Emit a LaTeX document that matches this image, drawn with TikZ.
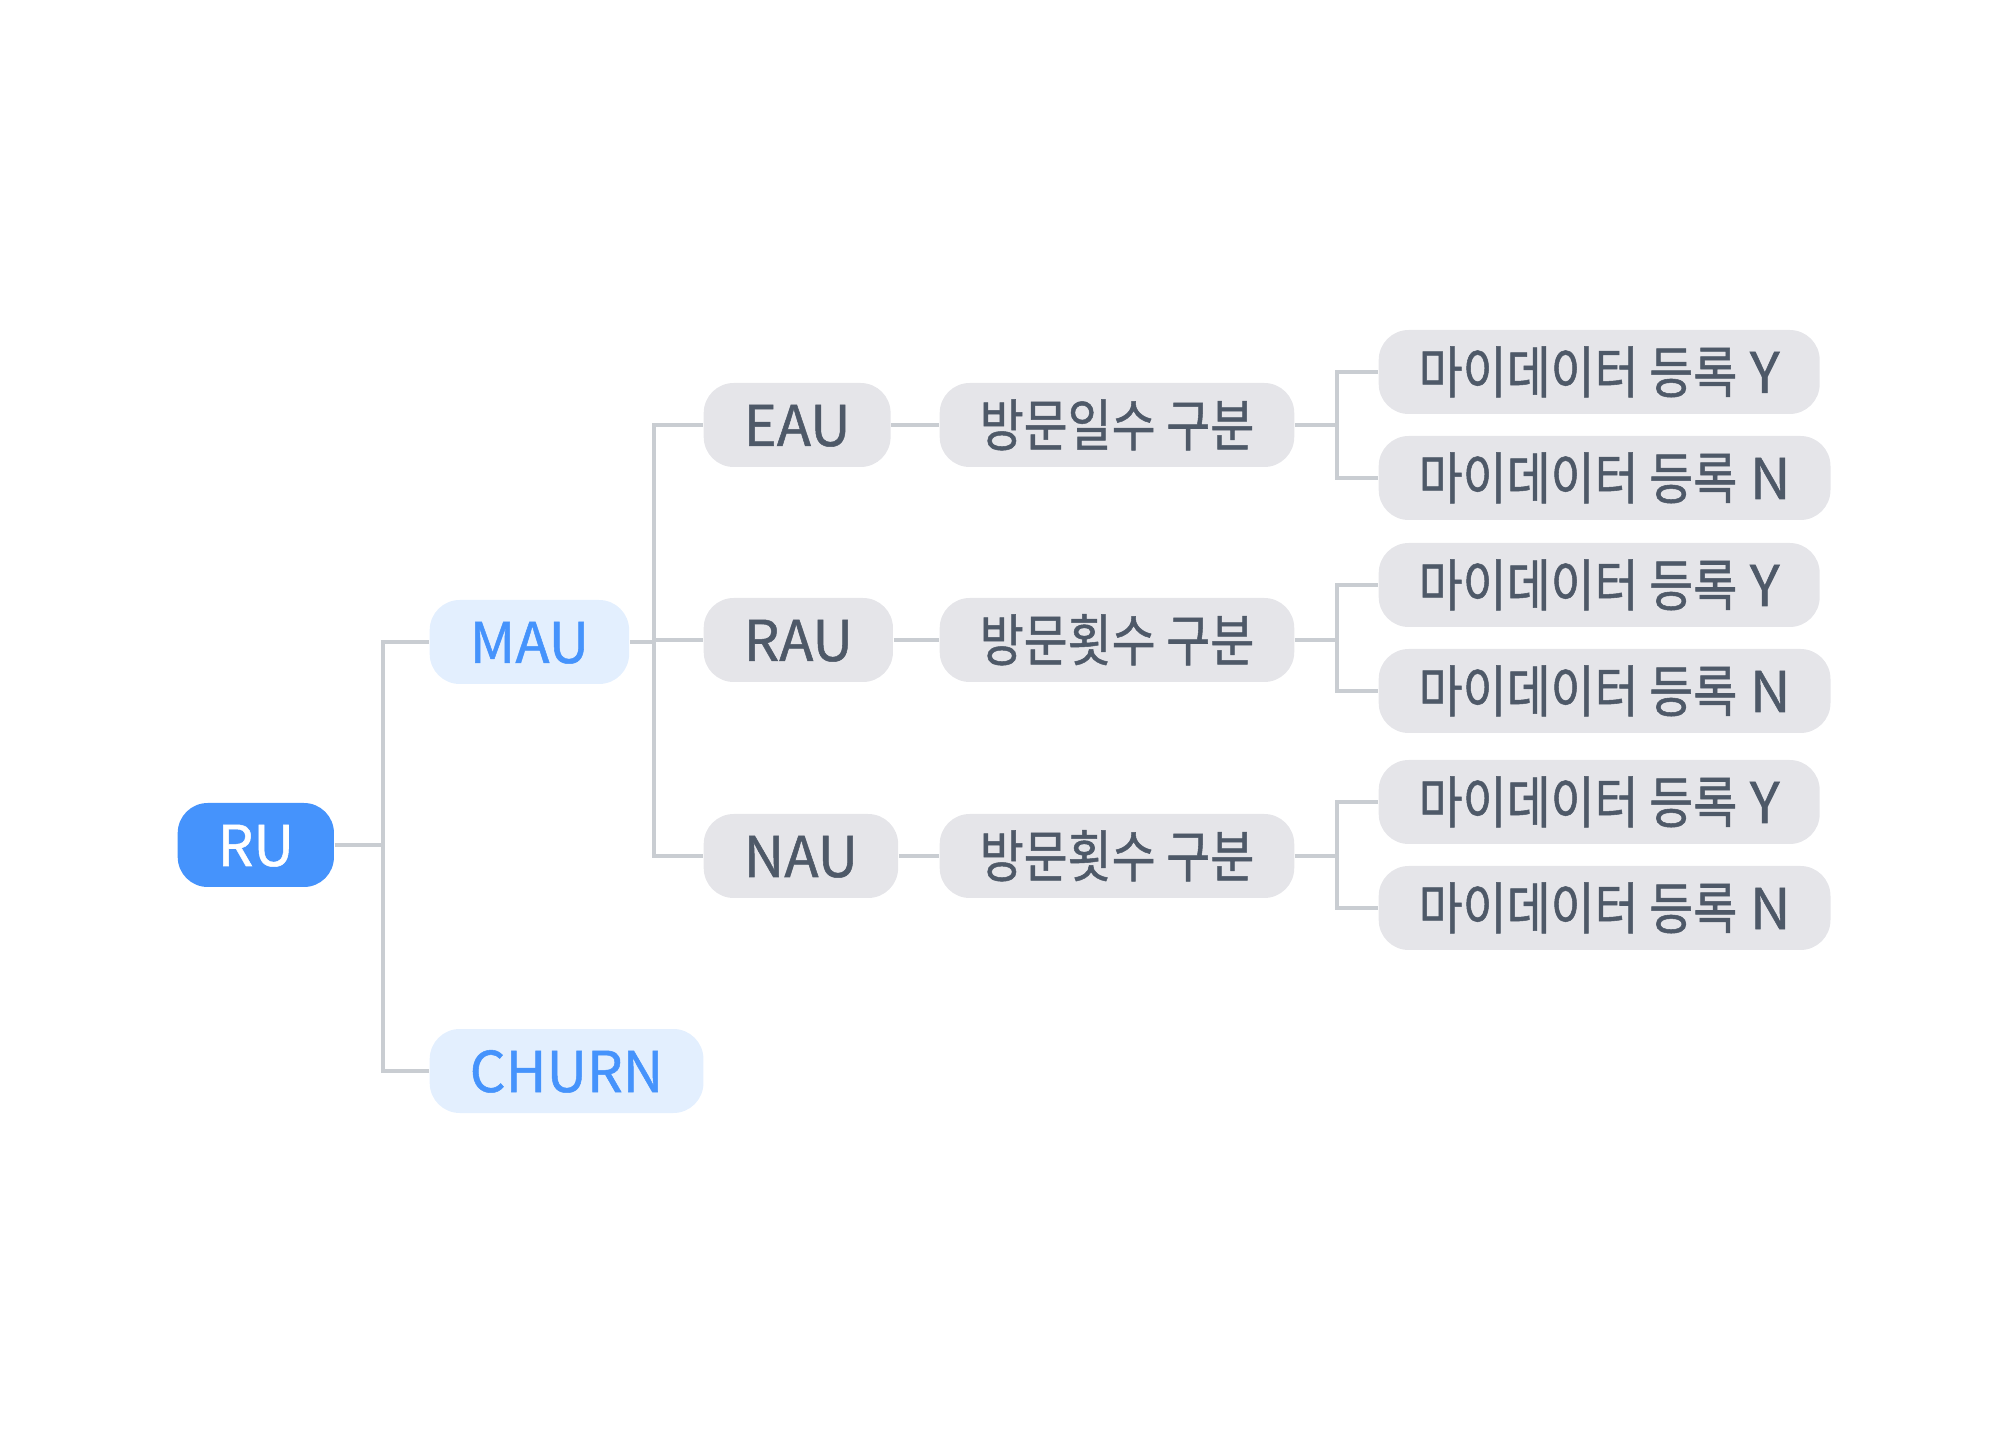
\documentclass[tikz,border=0pt]{standalone}
\usepackage{fontspec}
\setmainfont{Noto Sans CJK KR}[FakeBold=0.9]
\newfontfamily\krfont{Noto Sans CJK KR}[FakeStretch=0.85, FakeBold=0.9]
\usetikzlibrary{positioning, calc}
\definecolor{tsblue}{HTML}{4593FC}
\definecolor{tslightblue}{HTML}{E3EFFE}
\definecolor{tsgray}{HTML}{E5E5E9}
\definecolor{tstext}{HTML}{4E5968}
\definecolor{tsline}{HTML}{C9CDD2}

\begin{document}
\begin{tikzpicture}[font=\fontsize{16}{19}\selectfont,
    box/.style={rounded corners=0.3cm, minimum height=0.84cm, inner xsep=0.40cm,
                inner ysep=0pt, text height=0.5cm, text depth=0.08cm, anchor=west},
    rootbox/.style={box, fill=tsblue, text=white},
    segbox/.style={box, fill=tslightblue, text=tsblue},
    graybox/.style={box, fill=tsgray, text=tstext},
    link/.style={draw=tsline, line width=0.035cm}]
  \useasboundingbox (0,0) rectangle (20,-14.44);

  % branch columns
  \coordinate (b1) at (3.83,0);
  \coordinate (b2) at (6.54,0);
  \coordinate (b3) at (13.37,0);

  \node[rootbox] (ru) at (1.77,-8.45) {RU};
  \node[segbox] (mau) at (4.29,-6.42) {MAU};
  \node[segbox] (churn) at (4.29,-10.71) {CHURN};

  \node[graybox] (eau) at (7.03,-4.25) {EAU};
  \node[graybox] (rau) at (7.03,-6.40) {RAU};
  \node[graybox] (nau) at (7.03,-8.56) {NAU};

  \node[graybox] (eauvisit) at (9.39,-4.25) {\krfont 방문일수 구분};
  \node[graybox] (rauvisit) at (9.39,-6.40) {\krfont 방문횟수 구분};
  \node[graybox] (nauvisit) at (9.39,-8.56) {\krfont 방문횟수 구분};

  \node[graybox] (eauy) at (13.78,-3.72) {{\krfont 마이데이터 등록} Y};
  \node[graybox] (eaun) at (13.78,-4.78) {{\krfont 마이데이터 등록} N};
  \node[graybox] (rauy) at (13.78,-5.85) {{\krfont 마이데이터 등록} Y};
  \node[graybox] (raun) at (13.78,-6.91) {{\krfont 마이데이터 등록} N};
  \node[graybox] (nauy) at (13.78,-8.02) {{\krfont 마이데이터 등록} Y};
  \node[graybox] (naun) at (13.78,-9.08) {{\krfont 마이데이터 등록} N};

  % connectors
  \draw[link] (ru.east) -- (b1 |- ru.east) |- (mau.west);
  \draw[link] (b1 |- ru.east) |- (churn.west);
  \draw[link] (mau.east) -- (b2 |- mau.east);
  \foreach \n in {eau, rau, nau}
    \draw[link] (b2 |- mau.east) |- (\n.west);
  \foreach \n in {eau, rau, nau} {
    \draw[link] (\n.east) -- (\n visit.west);
    \draw[link] (\n visit.east) -- (b3 |- \n visit.east) |- (\n y.west);
    \draw[link] (b3 |- \n visit.east) |- (\n n.west);
  }
\end{tikzpicture}
\end{document}
